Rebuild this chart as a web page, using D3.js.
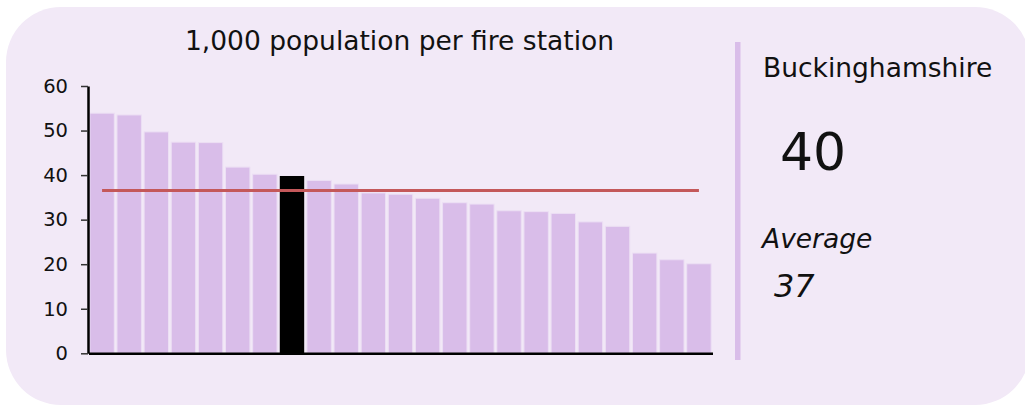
<!DOCTYPE html>
<html>
<head>
<meta charset="utf-8">
<script src="https://cdn.jsdelivr.net/npm/d3@7"></script>
<style>
  html, body { margin: 0; padding: 0; background: #ffffff; }
  svg { display: block; font-family: "DejaVu Sans", Verdana, sans-serif; }
</style>
</head>
<body>
<svg id="chart" width="1025" height="407"></svg>
<script>
// ---- data ----
const title = "1,000 population per fire station";
const areas = ["A1","A2","A3","A4","A5","A6","A7","Buckinghamshire","A9","A10","A11","A12",
               "A13","A14","A15","A16","A17","A18","A19","A20","A21","A22","A23"];
const values = [53.9, 53.5, 49.7, 47.4, 47.3, 41.8, 40.2, 39.8, 38.8, 38.0, 36.0, 35.7,
                34.8, 33.8, 33.5, 32.0, 31.8, 31.4, 29.5, 28.5, 22.5, 21.0, 20.1];
const selectedArea = "Buckinghamshire";
const yTicks = [0, 10, 20, 30, 40, 50, 60];
const averageLabel = "Average";

// ---- layout ----
const svg = d3.select("#chart");
const W = 1025, H = 407;
const plot = { left: 88.5, right: 712.5, top: 86, bottom: 353.3 };

// card background
svg.append("rect")
  .attr("x", 6).attr("y", 7).attr("width", 1024).attr("height", 398)
  .attr("rx", 55).attr("ry", 55)
  .attr("fill", "#f2e9f7");

const x = d3.scaleBand()
  .domain(areas)
  .range([plot.left, plot.right])
  .paddingInner(0.1)
  .paddingOuter(0.05);

const y = d3.scaleLinear()
  .domain([0, 60])
  .range([plot.bottom, plot.top]);

// title
svg.append("text")
  .attr("x", (plot.left + plot.right) / 2 - 1)
  .attr("y", 49.5)
  .attr("text-anchor", "middle")
  .attr("font-size", "26.5px")
  .attr("fill", "#111")
  .text(title);

// bars
svg.append("g").selectAll("rect")
  .data(areas.map((a, i) => ({ area: a, value: values[i] })))
  .join("rect")
  .attr("x", d => x(d.area))
  .attr("y", d => y(d.value))
  .attr("width", x.bandwidth())
  .attr("height", d => y(0) - y(d.value))
  .attr("fill", d => d.area === selectedArea ? "#000000" : "#d9bde9")
  .attr("stroke", d => d.area === selectedArea ? "none" : "#ecdff4")
  .attr("stroke-width", 1);

// average line
const avg = d3.mean(values);
svg.append("line")
  .attr("x1", x(areas[0]) + x.bandwidth() / 2)
  .attr("x2", x(areas[areas.length - 1]) + x.bandwidth() / 2)
  .attr("y1", y(avg)).attr("y2", y(avg))
  .attr("stroke", "#c4585a")
  .attr("stroke-width", 3);

// y axis
const yAxis = svg.append("g")
  .attr("transform", `translate(${plot.left - 0.5},0)`)
  .call(d3.axisLeft(y).tickValues(yTicks).tickSize(7).tickPadding(13).tickSizeOuter(0));
yAxis.select(".domain").attr("stroke", "#000").attr("stroke-width", 2.5);
yAxis.selectAll(".tick line").attr("stroke", "#333").attr("stroke-width", 1.5);
yAxis.selectAll(".tick text")
  .attr("font-size", "19.5px")
  .attr("font-family", "DejaVu Sans, Verdana, sans-serif")
  .attr("fill", "#111");

// x axis (line only)
const xAxis = svg.append("g")
  .attr("transform", `translate(0,${plot.bottom})`)
  .call(d3.axisBottom(x).tickValues([]).tickSizeOuter(0));
xAxis.select(".domain").attr("stroke", "#000").attr("stroke-width", 2.5);

// right panel
svg.append("rect")
  .attr("x", 735).attr("y", 42).attr("width", 5.5).attr("height", 318)
  .attr("fill", "#d9bde9");

const selValue = values[areas.indexOf(selectedArea)];
svg.append("text")
  .attr("x", 763).attr("y", 77)
  .attr("font-size", "26.5px").attr("fill", "#111")
  .text(selectedArea);
svg.append("text")
  .attr("x", 780).attr("y", 170)
  .attr("font-size", "52px").attr("fill", "#111")
  .text(d3.format(".0f")(selValue));
svg.append("text")
  .attr("x", 762).attr("y", 248)
  .attr("font-size", "26.5px").attr("font-style", "italic").attr("fill", "#111")
  .text(averageLabel);
svg.append("text")
  .attr("x", 774).attr("y", 297)
  .attr("font-size", "32px").attr("font-style", "italic").attr("fill", "#111")
  .text(d3.format(".0f")(avg));
</script>
</body>
</html>
